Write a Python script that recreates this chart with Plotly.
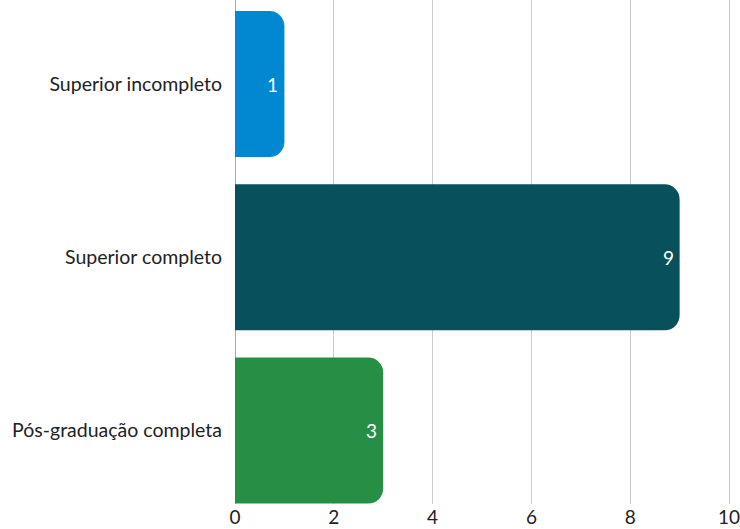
import plotly.graph_objects as go

categories = ["Superior incompleto", "Superior completo", "Pós-graduação completa"]
values = [1, 9, 3]
colors = ["#0288D1", "#07505C", "#268F45"]
x_ticks = [0, 2, 4, 6, 8, 10]

fig = go.Figure(
    go.Bar(
        x=values,
        y=categories,
        orientation="h",
        marker=dict(color=colors, line=dict(width=0)),
        width=0.843,
        hoverinfo="skip",
    )
)

for cat, v in zip(categories, values):
    fig.add_annotation(
        x=v, y=cat, xref="x", yref="y",
        text=str(v), showarrow=False,
        xanchor="right", yanchor="middle", xshift=-4,
        font=dict(color="white", size=19, family="Lato"),
    )

fig.update_layout(
    width=740,
    height=529,
    margin=dict(l=235, r=9, t=0, b=25, autoexpand=False),
    paper_bgcolor="white",
    plot_bgcolor="white",
    showlegend=False,
    barcornerradius=15,
    font=dict(family="Lato", size=19.5, color="#222222"),
)
fig.update_xaxes(
    range=[0, 10.04],
    tickvals=x_ticks,
    showgrid=True,
    gridcolor="#CCCCCC",
    gridwidth=1,
    zeroline=True,
    zerolinecolor="#AAAAAA",
    zerolinewidth=1,
    showline=False,
    ticks="",
    ticklabeloverflow="allow",
    tickfont=dict(size=19, color="#222222"),
    automargin=False,
)
fig.update_yaxes(
    type="category",
    categoryorder="array",
    categoryarray=categories,
    range=[2.424, -0.485],
    showgrid=False,
    zeroline=False,
    showline=False,
    ticks="",
    ticklabelstandoff=12,
    tickfont=dict(size=19.5, color="#222222"),
    automargin=False,
)

fig.write_html(
    "out.html",
    config={"displayModeBar": False},
    post_script="document.body.style.margin='0';",
)
